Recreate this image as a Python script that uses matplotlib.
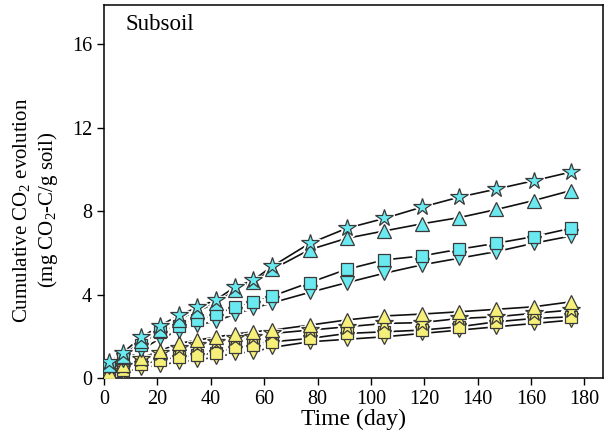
import numpy as np
import matplotlib
matplotlib.use("Agg")
import matplotlib.pyplot as plt

plt.rcParams['font.family'] = ['Liberation Serif', 'DejaVu Serif']
plt.rcParams['mathtext.fontset'] = 'custom'
plt.rcParams['mathtext.rm'] = 'Liberation Serif'
plt.rcParams['mathtext.it'] = 'Liberation Serif:italic'

# sampling days
days = [2, 7, 14, 21, 28, 35, 42, 49, 56, 63, 77, 91, 105, 119, 133, 147, 161, 175]

# cumulative CO2 (mg CO2-C / g soil)
cyan_star = [0.77, 1.20, 1.95, 2.50, 3.00, 3.38, 3.75, 4.35, 4.70, 5.35, 6.45, 7.18, 7.65, 8.19, 8.67, 9.06, 9.46, 9.88]
cyan_up = [0.60, 1.05, 1.75, 2.30, 2.80, 3.20, 3.60, 4.20, 4.60, 5.20, 6.15, 6.70, 7.05, 7.39, 7.69, 8.08, 8.51, 8.99]
cyan_square = [0.55, 0.95, 1.60, 2.21, 2.50, 2.80, 3.05, 3.38, 3.62, 3.92, 4.57, 5.21, 5.66, 5.85, 6.17, 6.46, 6.78, 7.18]
cyan_down = [0.50, 0.85, 1.35, 1.89, 2.25, 2.53, 2.73, 3.05, 3.34, 3.60, 4.10, 4.57, 5.02, 5.42, 5.74, 6.06, 6.46, 6.81]
yellow_up = [0.30, 0.61, 0.95, 1.30, 1.65, 1.81, 1.96, 2.10, 2.21, 2.29, 2.53, 2.78, 2.97, 3.06, 3.17, 3.29, 3.41, 3.65]
yellow_star = [0.25, 0.55, 0.90, 1.17, 1.41, 1.57, 1.73, 1.89, 1.97, 2.13, 2.29, 2.45, 2.61, 2.65, 2.85, 2.93, 3.10, 3.25]
yellow_square = [0.18, 0.40, 0.65, 0.85, 1.01, 1.09, 1.20, 1.49, 1.57, 1.73, 1.89, 2.13, 2.21, 2.29, 2.45, 2.69, 2.85, 2.93]
yellow_down = [0.13, 0.29, 0.45, 0.61, 0.77, 0.85, 1.01, 1.17, 1.25, 1.46, 1.73, 1.85, 1.97, 2.13, 2.29, 2.45, 2.61, 2.77]

cyan = '#6aeaf0'
yellow = '#f6f07a'

series = [
    (yellow_down, yellow, 'v', 10.5),
    (yellow_square, yellow, 's', 8.5),
    (yellow_star, yellow, '*', 13),
    (yellow_up, yellow, '^', 10.5),
    (cyan_down, cyan, 'v', 10.5),
    (cyan_square, cyan, 's', 8.5),
    (cyan_up, cyan, '^', 10.5),
    (cyan_star, cyan, '*', 13),
]

fig = plt.figure(figsize=(6.08, 4.44), dpi=100)
ax = fig.add_axes([0.171, 0.149, 0.821, 0.840])

# lines first, then a white halo so the line stops short of each symbol
for vals, col, mk, ms in series:
    ax.plot(days, vals, color='#111111', lw=1.2, zorder=1)
for vals, col, mk, ms in series:
    ax.plot(days, vals, ls='none', marker=mk, ms=ms + 1.5, mfc='white',
            mec='white', mew=2.5, zorder=2)
for vals, col, mk, ms in series:
    ax.plot(days, vals, ls='none', marker=mk, ms=ms, mfc=col,
            mec='#3a3a3a', mew=0.9, zorder=3)

ax.set_xlim(0, 187)
ax.set_ylim(0, 17.9)
ax.set_xticks(np.arange(0, 181, 20))
ax.set_yticks([0, 4, 8, 12, 16])
ax.tick_params(direction='out', length=5, width=1, labelsize=14.5, top=False, right=False)
for sp in ax.spines.values():
    sp.set_linewidth(1.1)

ax.set_xlabel('Time (day)', fontsize=17, labelpad=0)
ax.set_ylabel('Cumulative CO$_2$ evolution\n(mg CO$_2$-C/g soil)', fontsize=15,
              linespacing=1.25)
ax.yaxis.set_label_coords(-0.088, 0.45)
ax.text(0.043, 0.975, 'Subsoil', transform=ax.transAxes, fontsize=16.5,
        ha='left', va='top')

fig.savefig('out.png', dpi=100)
